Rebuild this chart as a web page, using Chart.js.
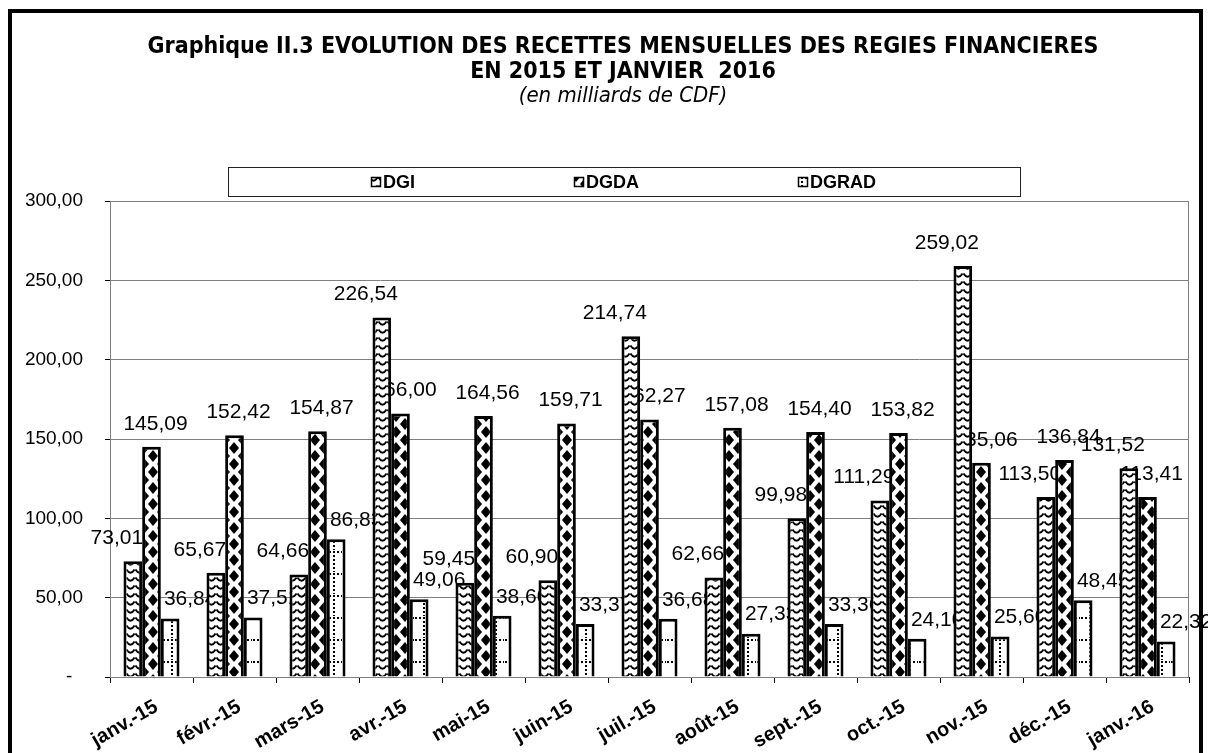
<!DOCTYPE html>
<html>
<head>
<meta charset="utf-8">
<script src="https://cdn.jsdelivr.net/npm/chart.js@4.4.0/dist/chart.umd.min.js"></script>
<style>
  html, body { margin: 0; padding: 0; background: #fff; }
  canvas { display: block; }
</style>
</head>
<body>
<canvas id="chart" width="1208" height="753"></canvas>
<script>
// Data
const months = ['janv.-15', 'févr.-15', 'mars-15', 'avr.-15', 'mai-15', 'juin-15', 'juil.-15',
                'août-15', 'sept.-15', 'oct.-15', 'nov.-15', 'déc.-15', 'janv.-16'];
const seriesNames = ['DGI', 'DGDA', 'DGRAD'];
const dgi   = [73.01, 65.67, 64.66, 226.54, 59.45, 60.90, 214.74, 62.66, 99.98, 111.29, 259.02, 113.50, 131.52];
const dgda  = [145.09, 152.42, 154.87, 166.00, 164.56, 159.71, 162.27, 157.08, 154.40, 153.82, 135.06, 136.84, 113.41];
const dgrad = [36.84, 37.51, 86.83, 49.06, 38.60, 33.37, 36.68, 27.33, 33.36, 24.10, 25.60, 48.45, 22.32];
const yMax = 300;
const yStep = 50;
const titleLines = ['Graphique II.3 EVOLUTION DES RECETTES MENSUELLES DES REGIES FINANCIERES',
                    'EN 2015 ET JANVIER  2016'];
const subtitleText = '(en milliards de CDF)';

const canvas = document.getElementById('chart');
const ctx = canvas.getContext('2d');

function fmt(v) {
    return v.toFixed(2).replace('.', ',');
}

// Build a repeating fill pattern from a small tile
function makePattern(w, h, draw) {
    const c = document.createElement('canvas');
    c.width = w;
    c.height = h;
    const g = c.getContext('2d');
    g.fillStyle = '#fff';
    g.fillRect(0, 0, w, h);
    g.fillStyle = '#000';
    g.strokeStyle = '#000';
    draw(g);
    return ctx.createPattern(c, 'repeat');
}

// DGI: stacked little arcs
const patDGI = makePattern(9, 8, function(g) {
    g.lineWidth = 1.8;
    g.beginPath();
    g.moveTo(0.5, 1.5);
    g.quadraticCurveTo(4.5, 8, 8.5, 1.5);
    g.stroke();
});

// DGDA: black diamonds
const patDGDA = makePattern(18, 16, function(g) {
    const diamond = (cx, cy) => {
        g.beginPath();
        g.moveTo(cx, cy - 6);
        g.lineTo(cx + 5, cy);
        g.lineTo(cx, cy + 6);
        g.lineTo(cx - 5, cy);
        g.closePath();
        g.fill();
    };
    diamond(9, 8);
    diamond(0, 0); diamond(18, 0); diamond(0, 16); diamond(18, 16);
});

// DGRAD: dotted grid
const patDGRAD = makePattern(18, 22, function(g) {
    for (let x = 0; x < 18; x += 4) g.fillRect(x + 1, 1, 2, 2);
    for (let y = 5; y < 22; y += 4) g.fillRect(9, y, 2, 2);
});

const patterns = [patDGI, patDGDA, patDGRAD];

// Page background + outer frame + header texts + legend box
const framePlugin = {
    id: 'frame',
    beforeDraw(chart) {
        const c = chart.ctx;
        c.save();
        c.fillStyle = '#fff';
        c.fillRect(0, 0, chart.width, chart.height);
        c.strokeStyle = '#000';
        c.lineWidth = 4;
        c.strokeRect(10, 11, 1191, 760);

        // titles
        const cx = 623;
        c.fillStyle = '#000';
        c.textAlign = 'center';
        c.textBaseline = 'middle';
        c.font = "bold 23px 'Liberation Sans Narrow', 'DejaVu Sans Condensed', sans-serif";
        c.fillText(titleLines[0], cx, 47);
        c.fillText(titleLines[1], cx, 72);
        c.font = "italic 22px 'Liberation Sans Narrow', 'DejaVu Sans Condensed', sans-serif";
        c.fillText(subtitleText, cx, 96);

        // legend
        c.lineWidth = 1;
        c.strokeStyle = '#222';
        c.strokeRect(228.5, 167.5, 792, 29);
        c.font = "bold 18px 'Liberation Sans', Arial, sans-serif";
        c.textAlign = 'left';
        const gap = 158;
        const widths = seriesNames.map(n => 13 + c.measureText(n).width);
        const total = widths.reduce((a, b) => a + b, 0) + gap * (seriesNames.length - 1);
        let x = 624 - total / 2;
        seriesNames.forEach((n, i) => {
            c.fillStyle = patterns[i];
            c.fillRect(x, 177, 10, 10);
            c.strokeStyle = '#000';
            c.lineWidth = 1.5;
            c.strokeRect(x + 0.5, 177.5, 9, 9);
            c.fillStyle = '#000';
            c.fillText(n, x + 12, 183);
            x += widths[i] + gap;
        });
        c.restore();
    },
    beforeDatasetsDraw(chart) {
        // plot area outline in grey
        const a = chart.chartArea;
        const c = chart.ctx;
        c.save();
        c.strokeStyle = '#808080';
        c.lineWidth = 1;
        c.strokeRect(a.left + 0.5, a.top + 0.5, a.right - a.left - 1, a.bottom - a.top);
        c.restore();
    }
};

// Value labels, drawn under the bars like in the original
const labelOffsets = [[-16, -23], [4, -23], [20, -19]];
const valueLabels = {
    id: 'valueLabels',
    beforeDatasetsDraw(chart) {
        const c = chart.ctx;
        c.save();
        c.font = "21px 'Liberation Sans', Arial, sans-serif";
        c.fillStyle = '#000';
        c.textAlign = 'center';
        c.textBaseline = 'middle';
        chart.data.datasets.forEach((ds, i) => {
            const meta = chart.getDatasetMeta(i);
            meta.data.forEach((bar, j) => {
                c.fillText(fmt(ds.data[j]), bar.x + labelOffsets[i][0], bar.y + labelOffsets[i][1]);
            });
        });
        c.restore();
    }
};

new Chart(canvas, {
    type: 'bar',
    data: {
        labels: months,
        datasets: [
            { label: seriesNames[0], data: dgi,   backgroundColor: patDGI,   borderColor: '#000', borderWidth: 3 },
            { label: seriesNames[1], data: dgda,  backgroundColor: patDGDA,  borderColor: '#000', borderWidth: 3 },
            { label: seriesNames[2], data: dgrad, backgroundColor: patDGRAD, borderColor: '#000', borderWidth: 3 }
        ]
    },
    options: {
        responsive: false,
        animation: false,
        layout: {
            padding: { top: 201, left: 10, right: 19, bottom: 0 }
        },
        datasets: {
            bar: {
                categoryPercentage: 0.675,
                barPercentage: 1
            }
        },
        plugins: {
            legend: { display: false },
            title: { display: false },
            tooltip: { enabled: false }
        },
        scales: {
            x: {
                afterFit: function(scale) { scale.height = 76; },
                grid: {
                    display: true,
                    drawOnChartArea: false,
                    tickLength: 6,
                    color: '#000',
                    offset: true
                },
                border: { color: '#000', width: 1 },
                ticks: {
                    color: '#000',
                    font: { family: "'Liberation Sans', Arial, sans-serif", size: 20, weight: 'bold' },
                    minRotation: 30,
                    maxRotation: 30,
                    padding: 12,
                    labelOffset: 5,
                    autoSkip: false
                }
            },
            y: {
                min: 0,
                max: yMax,
                afterFit: function(scale) { scale.width = 100; },
                grid: {
                    color: '#808080',
                    tickColor: '#000',
                    tickLength: 5,
                    lineWidth: 1
                },
                border: { color: '#000', width: 1 },
                ticks: {
                    stepSize: yStep,
                    color: '#000',
                    padding: 22,
                    font: { family: "'Liberation Sans', Arial, sans-serif", size: 19 },
                    callback: function(value) {
                        return value === 0 ? '-  ' : fmt(value);
                    }
                }
            }
        }
    },
    plugins: [framePlugin, valueLabels]
});
</script>
</body>
</html>
